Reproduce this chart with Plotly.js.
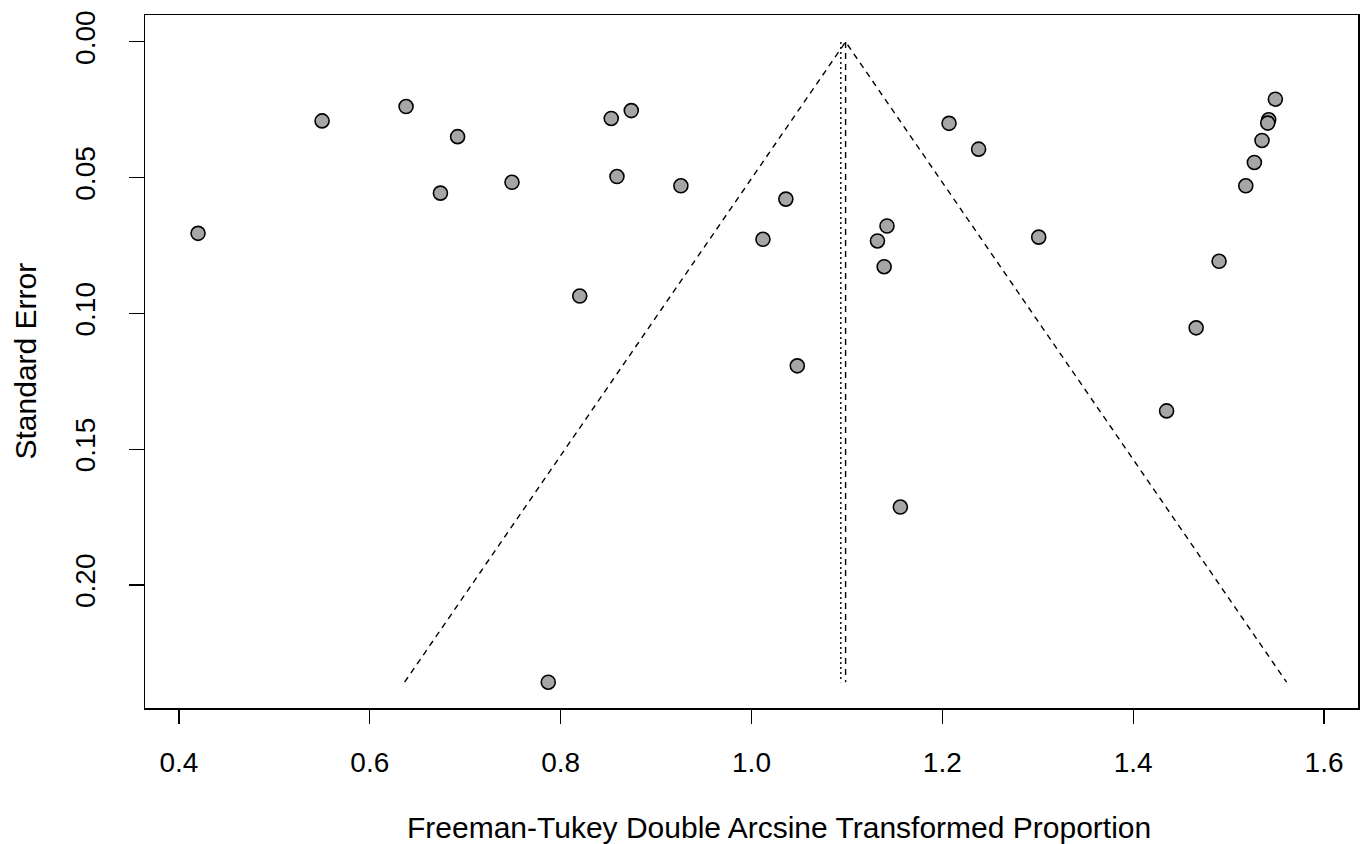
<!DOCTYPE html>
<html>
<head>
<meta charset="utf-8">
<script src="https://cdn.plot.ly/plotly-3.0.1.min.js"></script>
<style>
html,body{margin:0;padding:0;background:#fff;}
#chart{width:1372px;height:844px;}
</style>
</head>
<body>
<div id="chart"></div>
<script>
// Study effect sizes (Freeman-Tukey double arcsine transformed proportions)
const yi = [0.420, 0.550, 0.638, 0.692, 0.674, 0.749, 0.853, 0.874, 0.859, 0.926,
            0.787, 0.820, 1.036, 1.012, 1.142, 1.132, 1.139, 1.048, 1.156,
            1.207, 1.238, 1.301, 1.435, 1.466, 1.549, 1.542, 1.541, 1.535, 1.527, 1.518, 1.490];
// Standard errors
const sei = [0.0705, 0.0291, 0.0238, 0.0349, 0.0557, 0.0517, 0.0282, 0.0253, 0.0496, 0.0530,
             0.2358, 0.0936, 0.0579, 0.0727, 0.0678, 0.0733, 0.0828, 0.1193, 0.1713,
             0.0300, 0.0395, 0.0719, 0.1359, 0.1053, 0.0211, 0.0287, 0.0299, 0.0363, 0.0444, 0.0530, 0.0808];
// Pooled estimates
const estFunnel = 1.0986;   // dashed line / funnel centre
const estOther = 1.0936;    // dotted line
const zCrit = 1.96;
const xTicks = [0.4, 0.6, 0.8, 1.0, 1.2, 1.4, 1.6];
const xTickText = ["0.4", "0.6", "0.8", "1.0", "1.2", "1.4", "1.6"];
const yTicks = [0.00, 0.05, 0.10, 0.15, 0.20];
const yTickText = ["0.00", "0.05", "0.10", "0.15", "0.20"];
const yTitle = 'Standard Error';
const xTitle = 'Freeman-Tukey Double Arcsine Transformed Proportion';

const seMax = Math.max(...sei);

const traces = [
  {
    x: [estFunnel - zCrit * seMax, estFunnel, estFunnel + zCrit * seMax],
    y: [seMax, 0, seMax],
    mode: 'lines', type: 'scatter',
    line: {color: '#000', width: 1.4, dash: '6px,5px'},
    hoverinfo: 'skip'
  },
  {
    x: [estFunnel, estFunnel],
    y: [0, seMax],
    mode: 'lines', type: 'scatter',
    line: {color: '#000', width: 1.4, dash: '6px,5px'},
    hoverinfo: 'skip'
  },
  {
    x: [estOther, estOther],
    y: [0, seMax],
    mode: 'lines', type: 'scatter',
    line: {color: '#000', width: 1.4, dash: '2px,3px'},
    hoverinfo: 'skip'
  },
  {
    x: yi, y: sei,
    mode: 'markers', type: 'scatter',
    marker: {size: 14, color: '#a6a6a6', line: {color: '#000', width: 1.6}}
  }
];

const font = {family: 'Liberation Sans, Arial, sans-serif', color: '#000'};

const layout = {
  width: 1372, height: 844,
  showlegend: false,
  paper_bgcolor: '#fff', plot_bgcolor: '#fff',
  margin: {l: 145, r: 14, t: 15, b: 136},
  font: font,
  xaxis: {
    range: [0.3644, 1.6356],
    tickvals: xTicks, ticktext: xTickText,
    ticks: 'outside', ticklen: 14, tickwidth: 1.2, tickcolor: '#000',
    showline: true, mirror: true, linecolor: '#000', linewidth: 1.5,
    showgrid: false, zeroline: false,
    tickfont: {family: font.family, size: 28, color: '#000'},
    ticklabelstandoff: 15
  },
  yaxis: {
    range: [0.2453, -0.0099],
    tickvals: yTicks, ticktext: yTickText,
    ticks: 'outside', ticklen: 15, tickwidth: 1.2, tickcolor: '#000',
    showline: true, mirror: true, linecolor: '#000', linewidth: 1.5,
    showgrid: false, zeroline: false,
    tickangle: -90,
    tickfont: {family: font.family, size: 28, color: '#000'},
    ticklabelstandoff: 22
  },
  annotations: [
    {
      text: yTitle, textangle: -90,
      xref: 'paper', yref: 'paper', x: 0, y: 0.5,
      xanchor: 'center', yanchor: 'middle', xshift: -120,
      showarrow: false,
      font: {family: font.family, size: 30, color: '#000'}
    },
    {
      text: xTitle,
      xref: 'paper', yref: 'paper', x: 0.5, y: 0,
      xanchor: 'center', yanchor: 'middle', xshift: 27, yshift: -119,
      showarrow: false,
      font: {family: font.family, size: 30, color: '#000'}
    }
  ]
};

Plotly.newPlot('chart', traces, layout, {displayModeBar: false, staticPlot: true});
</script>
</body>
</html>
